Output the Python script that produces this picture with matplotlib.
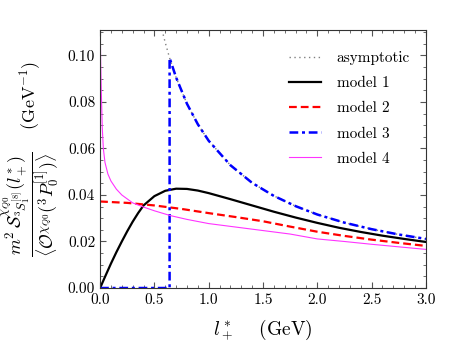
import matplotlib
matplotlib.use("Agg")
import matplotlib.pyplot as plt
from matplotlib.ticker import MultipleLocator, AutoMinorLocator

plt.rcParams['font.family'] = 'serif'
plt.rcParams['font.serif'] = ['cmr10', 'DejaVu Serif']
plt.rcParams['mathtext.fontset'] = 'cm'
plt.rcParams['axes.formatter.use_mathtext'] = True

# values
l_asym = [0.55, 0.58, 0.60, 0.64, 0.70, 0.80, 0.90, 1.00, 1.20, 1.40, 1.60, 1.80,
          2.00, 2.25, 2.50, 2.75, 3.00]
asym = [0.1151, 0.1091, 0.1055, 0.0989, 0.0905, 0.0792, 0.0704, 0.0633, 0.0528,
        0.0452, 0.0396, 0.0352, 0.0316, 0.0281, 0.0253, 0.0230, 0.0211]

l_m1 = [0.0, 0.05, 0.1, 0.15, 0.2, 0.25, 0.3, 0.35, 0.4, 0.5, 0.6, 0.7, 0.8, 0.9, 1.0,
        1.2, 1.4, 1.6, 1.8, 2.0, 2.2, 2.4, 2.6, 2.8, 3.0]
model1 = [0.0, 0.0053, 0.0105, 0.0154, 0.0200, 0.0244, 0.0285, 0.0322, 0.0355, 0.0395,
          0.0418, 0.0427, 0.0426, 0.0419, 0.0408, 0.0382, 0.0355, 0.0328, 0.0303,
          0.0280, 0.0259, 0.0241, 0.0225, 0.0211, 0.0198]

l_m2 = [0.0, 0.25, 0.5, 0.75, 1.0, 1.25, 1.5, 1.75, 2.0, 2.25, 2.5, 2.75, 3.0]
model2 = [0.0372, 0.0366, 0.0355, 0.0340, 0.0322, 0.0305, 0.0287, 0.0264, 0.0242,
          0.0224, 0.0208, 0.0194, 0.0181]

l_m3 = [0.0, 0.64, 0.64, 0.70, 0.80, 0.90, 1.00, 1.20, 1.40, 1.60, 1.80, 2.00, 2.25,
        2.50, 2.75, 3.00]
model3 = [0.0, 0.0, 0.0989, 0.0905, 0.0792, 0.0704, 0.0633, 0.0528, 0.0452, 0.0396,
          0.0352, 0.0316, 0.0281, 0.0253, 0.0230, 0.0211]

l_m4 = [0.001, 0.002, 0.005, 0.011, 0.02, 0.03, 0.045, 0.072, 0.1, 0.15, 0.2, 0.3, 0.4,
        0.5, 0.65, 0.8, 1.0, 1.25, 1.5, 1.75, 2.0, 2.25, 2.5, 2.75, 3.0]
model4 = [0.125, 0.111, 0.098, 0.085, 0.069, 0.060, 0.054, 0.049, 0.046, 0.0425,
          0.0400, 0.0366, 0.0348, 0.0332, 0.0311, 0.0295, 0.0277, 0.0262, 0.0247,
          0.0232, 0.0211, 0.0200, 0.0188, 0.0177, 0.0166]

fig = plt.figure(figsize=(4.57, 3.47), dpi=100)
ax = fig.add_axes([0.219, 0.170, 0.713, 0.744])

ax.plot(l_asym, asym, color='gray', ls=(0, (1, 2.5)), lw=1.0, label='asymptotic')
ax.plot(l_m1, model1, color='black', lw=1.6, label='model 1')
ax.plot(l_m2, model2, color='red', ls=(0, (3.5, 1.8)), lw=1.6, label='model 2')
ax.plot(l_m3, model3, color='blue', ls=(0, (3.5, 1.5, 1.2, 1.5)), lw=1.8, label='model 3')
ax.plot(l_m4, model4, color='#ff33ff', lw=0.8, label='model 4')

ax.set_xlim(0, 3.0)
ax.set_ylim(0, 0.111)
ax.xaxis.set_major_locator(MultipleLocator(0.5))
ax.xaxis.set_minor_locator(AutoMinorLocator(5))
ax.yaxis.set_major_locator(MultipleLocator(0.02))
ax.yaxis.set_minor_locator(AutoMinorLocator(4))
ax.xaxis.set_major_formatter(matplotlib.ticker.FormatStrFormatter('%.1f'))
ax.yaxis.set_major_formatter(matplotlib.ticker.FormatStrFormatter('%.2f'))
ax.tick_params(which='both', direction='in', top=True, right=True, labelsize=11,
               color='#555555')
ax.tick_params(which='major', length=4)
ax.tick_params(which='minor', length=2)
for s in ax.spines.values():
    s.set_color('#333333')

ax.set_xlabel(r'$l_+^*\quad$ (GeV)', fontsize=14, labelpad=8)
ax.set_ylabel(r'$\dfrac{m^2\,\mathcal{S}^{\chi_{Q0}}_{^3S_1^{[8]}}(l_+^*)}'
              r'{\langle\mathcal{O}^{\chi_{Q0}}(^3P_0^{[1]})\rangle}\quad$ (GeV$^{-1}$)',
              fontsize=13, labelpad=4)

ax.legend(loc='upper right', bbox_to_anchor=(0.988, 0.965), frameon=False,
          fontsize=11, handlelength=2.1, handletextpad=1.0,
          labelspacing=0.75, borderaxespad=0.4)

fig.savefig('out.png', dpi=100)
